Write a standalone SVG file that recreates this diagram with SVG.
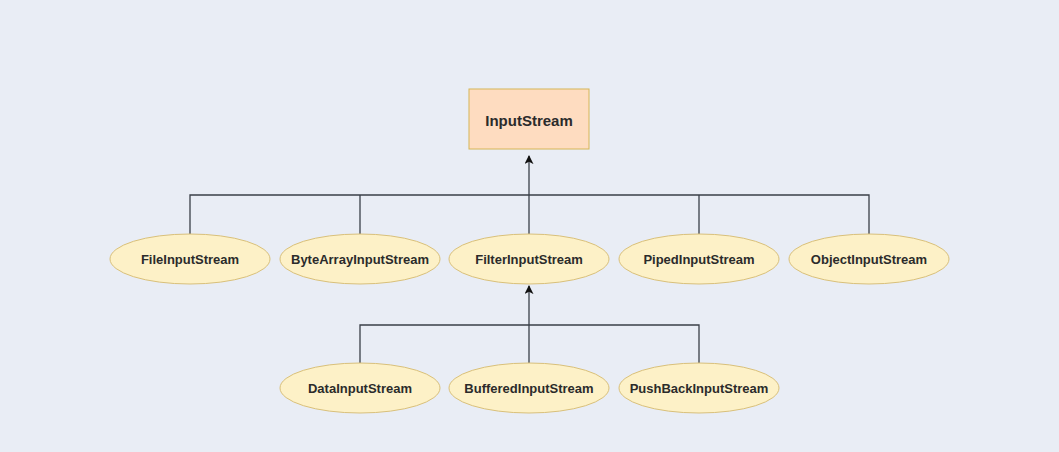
<svg xmlns="http://www.w3.org/2000/svg" width="1059" height="452" viewBox="0 0 1059 452">
<style>
.bg{fill:#e9edf5}
.root{fill:#fedcc0;stroke:#d6b656;stroke-width:1}
.node{fill:#fdf1c7;stroke:#d9c07a;stroke-width:1}
.lbl{font-family:"Liberation Sans",Arial,sans-serif;font-weight:bold;font-size:13px;fill:#2b2b2b;text-anchor:middle;dominant-baseline:central}
.rootlbl{font-size:15px}
.edge{fill:none;stroke:#3a3f47;stroke-width:1.3}
</style>
<defs>
<marker id="arr" viewBox="0 0 10 10" refX="9" refY="5" markerWidth="9" markerHeight="9" orient="auto" markerUnits="userSpaceOnUse">
<path d="M0,0 L10,5 L0,10 L2.5,5 Z" fill="#111"/>
</marker>
</defs>
<rect class="bg" x="0" y="0" width="1059" height="452"/>
<g id="connectors">
<path class="edge" d="M529,234 L529,156" marker-end="url(#arr)"/>
<path class="edge" d="M190,234 L190,195 L869,195 L869,234"/>
<path class="edge" d="M360,234 L360,195"/>
<path class="edge" d="M699,234 L699,195"/>
<path class="edge" d="M529,363 L529,286" marker-end="url(#arr)"/>
<path class="edge" d="M360,363 L360,325 L699,325 L699,363"/>
</g>
<g id="InputStream">
<rect class="root" x="469" y="89" width="120" height="60"/>
<text class="lbl rootlbl" x="529" y="120">InputStream</text>
</g>
<g id="FileInputStream">
<ellipse class="node" cx="190" cy="259" rx="80" ry="25"/>
<text class="lbl" x="190" y="259">FileInputStream</text>
</g>
<g id="ByteArrayInputStream">
<ellipse class="node" cx="360" cy="259" rx="80" ry="25"/>
<text class="lbl" x="360" y="259">ByteArrayInputStream</text>
</g>
<g id="FilterInputStream">
<ellipse class="node" cx="529" cy="259" rx="80" ry="25"/>
<text class="lbl" x="529" y="259">FilterInputStream</text>
</g>
<g id="PipedInputStream">
<ellipse class="node" cx="699" cy="259" rx="80" ry="25"/>
<text class="lbl" x="699" y="259">PipedInputStream</text>
</g>
<g id="ObjectInputStream">
<ellipse class="node" cx="869" cy="259" rx="80" ry="25"/>
<text class="lbl" x="869" y="259">ObjectInputStream</text>
</g>
<g id="DataInputStream">
<ellipse class="node" cx="360" cy="388" rx="80" ry="25"/>
<text class="lbl" x="360" y="388">DataInputStream</text>
</g>
<g id="BufferedInputStream">
<ellipse class="node" cx="529" cy="388" rx="80" ry="25"/>
<text class="lbl" x="529" y="388">BufferedInputStream</text>
</g>
<g id="PushBackInputStream">
<ellipse class="node" cx="699" cy="388" rx="80" ry="25"/>
<text class="lbl" x="699" y="388">PushBackInputStream</text>
</g>
</svg>
